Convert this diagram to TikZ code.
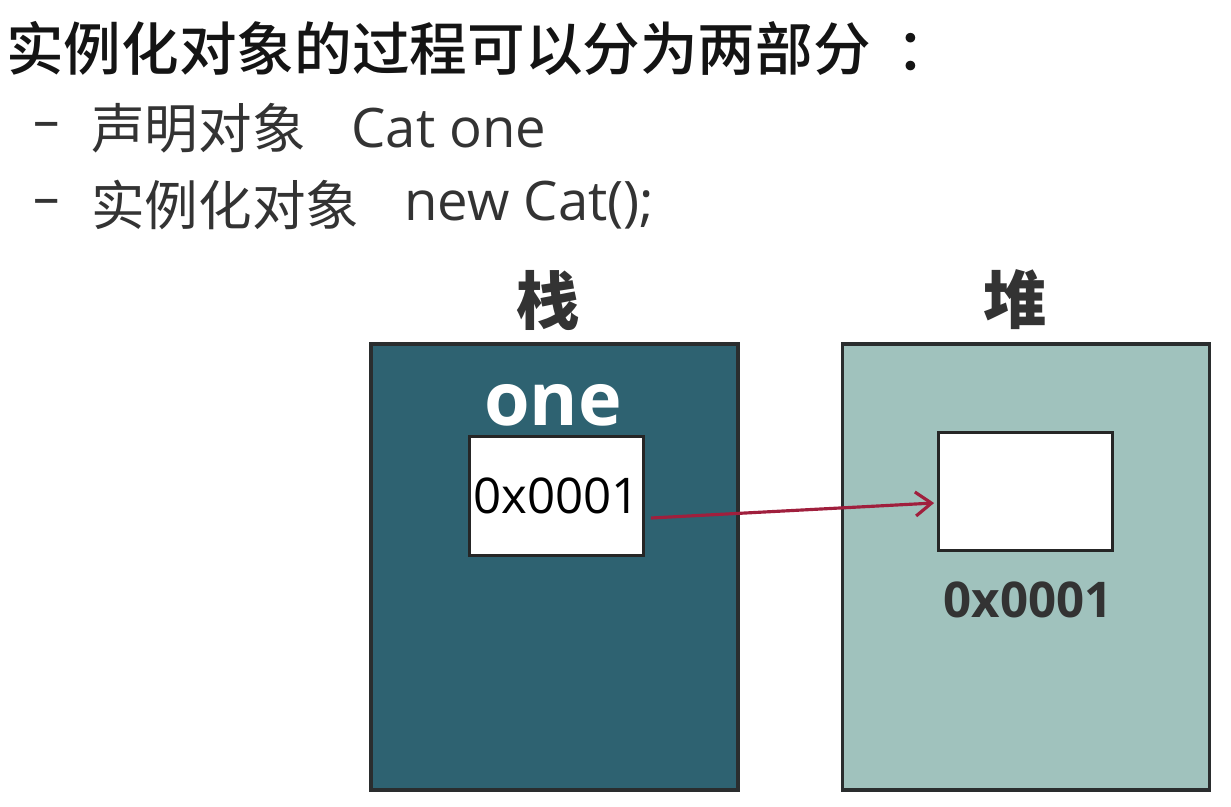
\documentclass[tikz,border=0pt]{standalone}
\usepackage{fontspec}
\setmainfont{Open Sans}
\newfontfamily\cjk{Noto Sans CJK SC}
\newfontfamily\cjkmed{Noto Sans CJK SC Medium}
\usetikzlibrary{arrows.meta}
\definecolor{stackfill}{HTML}{2E6271}
\definecolor{heapfill}{HTML}{A0C2BD}
\definecolor{boxline}{HTML}{2A2D2E}
\definecolor{pointer}{HTML}{A01F3D}
\definecolor{bodytext}{HTML}{333333}

\begin{document}
\begin{tikzpicture}[
    x=0.02cm, y=-0.02cm,
    mem/.style={draw=boxline, line width=2.2pt, inner sep=0pt,
        minimum width=7.34cm, minimum height=8.92cm},
    cell/.style={draw=black!85, fill=white, line width=1.6pt, inner sep=0pt,
        minimum width=3.48cm, minimum height=2.37cm},
    line/.style={anchor=west, inner sep=0pt, text=bodytext}
]
\useasboundingbox (0,0) rectangle (1231,806);

\node[anchor=west, inner sep=0pt, text=black!92,
    font=\cjkmed\fontsize{32.8}{38}\selectfont]
    (title) at (6,48) {实例化对象的过程可以分为两部分\hspace{0.45em}：};

\node[line, font=\fontsize{30}{36}\selectfont] (dasha) at (33,130) {–};
\node[line, font=\cjk\fontsize{30.5}{36}\selectfont] (decl) at (91,128) {声明对象};
\node[line, font=\fontsize{31}{36}\selectfont] (declcode) at (351,128) {Cat one};

\node[line, font=\fontsize{30}{36}\selectfont] (dashb) at (33,207) {–};
\node[line, font=\cjk\fontsize{30.5}{36}\selectfont] (inst) at (91,205) {实例化对象};
\node[line, font=\fontsize{31}{36}\selectfont] (instcode) at (404,205) {new Cat();};

\node[mem, fill=stackfill] (stack) at (554.5,567) {};
\node[mem, fill=heapfill] (heap) at (1026,567) {};

\node[font=\cjk\bfseries\fontsize{36}{40}\selectfont, text=bodytext]
    (stacklbl) at (548,300) {栈};
\node[font=\cjk\bfseries\fontsize{36}{40}\selectfont, text=bodytext]
    (heaplbl) at (1015,300) {堆};

\node[font=\bfseries\fontsize{42}{48}\selectfont, text=white]
    (var) at (553,405) {one};

\node[cell, font=\fontsize{28}{32}\selectfont] (ref) at (556.5,496) {0x0001};
\node[cell] (obj) at (1025.5,491.5) {};

\node[font=\bfseries\fontsize{28}{32}\selectfont, text=bodytext]
    (addr) at (1028,600) {0x0001};

\draw[pointer, line width=1.8pt, -{Straight Barb[length=3.2mm,width=4.8mm,line width=1.8pt]}]
    ([xshift=0.12cm,yshift=-0.44cm]ref.east) -- ([xshift=-0.06cm,yshift=-0.23cm]obj.west);
\end{tikzpicture}
\end{document}
